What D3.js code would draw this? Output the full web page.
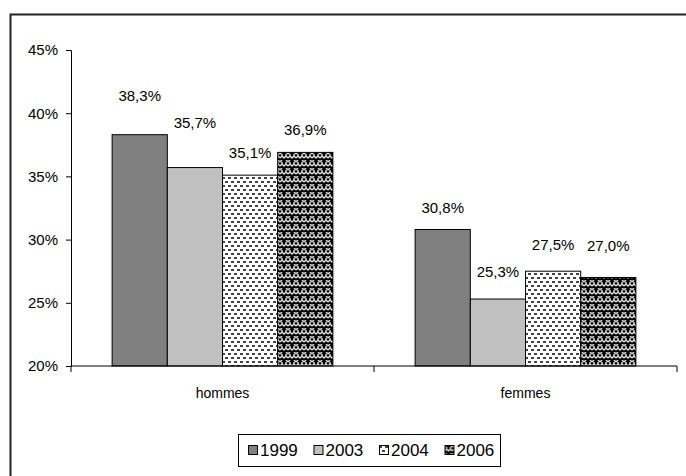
<!DOCTYPE html>
<html>
<head>
<meta charset="utf-8">
<script src="https://cdn.jsdelivr.net/npm/d3@7"></script>
<style>
  body { margin: 0; background: #fff; }
  text { font-family: "Liberation Sans", Arial, sans-serif; fill: #000; }
</style>
</head>
<body>
<script>
// data
var categories = ["hommes", "femmes"]
var years = ["1999", "2003", "2004", "2006"]
var values1999 = [38.3, 30.8]
var values2003 = [35.7, 25.3]
var values2004 = [35.1, 27.5]
var values2006 = [36.9, 27.0]
var yTicks = [20, 25, 30, 35, 40, 45]

// label lift above each bar (pixels), per year then category -- the original labels are hand placed
var labelLift = {
  "1999": [39, 21],
  "2003": [45, 27],
  "2004": [22, 26],
  "2006": [22, 32]
}

var series = [values1999, values2003, values2004, values2006]

function fmt(v) {
  return v.toFixed(1).replace(".", ",") + "%"
}

width = 686
height = 476

svg = d3.select("body")
  .append("svg")
  .attr("width", width)
  .attr("height", height)

// patterns
defs = svg.append("defs")

p4 = defs.append("pattern")
  .attr("id", "pat2004")
  .attr("patternUnits", "userSpaceOnUse")
  .attr("width", 6).attr("height", 8)
p4.append("rect").attr("width", 6).attr("height", 8).attr("fill", "#fff")
p4.append("rect").attr("x", 0).attr("y", 1).attr("width", 3).attr("height", 2).attr("fill", "#444")
p4.append("rect").attr("x", 3).attr("y", 5).attr("width", 3).attr("height", 2).attr("fill", "#444")

p6 = defs.append("pattern")
  .attr("id", "pat2006")
  .attr("patternUnits", "userSpaceOnUse")
  .attr("width", 8).attr("height", 8)
p6.append("rect").attr("width", 8).attr("height", 8).attr("fill", "#000")
p6.append("path")
  .attr("d", "M0,6 L2,4 L4,6 L6,4 L8,6 M0,2 L2,0 M6,0 L8,2 M2,4 L2,2 M6,4 L6,2")
  .attr("stroke", "#ddd")
  .attr("stroke-width", 1.5)
  .attr("fill", "none")

var fills = ["#808080", "#c0c0c0", "url(#pat2004)", "url(#pat2006)"]

// outer frame
svg.append("rect")
  .attr("x", 10.5).attr("y", 14.5)
  .attr("width", 700).attr("height", 500)
  .attr("fill", "none")
  .attr("stroke", "#222")
  .attr("stroke-width", 2)

var plotLeft = 71, plotRight = 677, plotTop = 50, plotBottom = 366

var x0 = d3.scaleBand()
  .domain(categories)
  .range([plotLeft, plotRight])

var x1 = d3.scaleBand()
  .domain(years)
  .range([0, x0.bandwidth()])
  .paddingOuter(0.745)
  .paddingInner(0)

var y = d3.scaleLinear()
  .domain([20, 45])
  .range([plotBottom, plotTop])

// y axis
yAxis = svg.append("g")
  .attr("transform", "translate(" + plotLeft + ",0)")
  .call(d3.axisLeft(y).tickValues(yTicks).tickSize(5).tickPadding(8).tickFormat(function(d) { return d + "%" }))
yAxis.select(".domain").attr("stroke", "#000")
yAxis.selectAll("text").style("font-size", "15px").style("font-family", "Liberation Sans, Arial, sans-serif")

// bars
years.forEach(function(yr, si) {
  svg.append("g")
    .selectAll("rect")
    .data(series[si])
    .enter()
    .append("rect")
    .attr("x", function(d, i) { return x0(categories[i]) + x1(yr) })
    .attr("y", function(d) { return y(d) })
    .attr("width", x1.bandwidth())
    .attr("height", function(d) { return y(20) - y(d) })
    .attr("fill", fills[si])
    .attr("stroke", "#000")
    .attr("stroke-width", 1)

  svg.append("g")
    .selectAll("text")
    .data(series[si])
    .enter()
    .append("text")
    .attr("x", function(d, i) { return x0(categories[i]) + x1(yr) + x1.bandwidth() / 2 })
    .attr("y", function(d, i) { return y(d) - labelLift[yr][i] + 5 })
    .attr("text-anchor", "middle")
    .style("font-size", "15px")
    .text(function(d) { return fmt(d) })
})

// x axis
svg.append("line")
  .attr("x1", plotLeft).attr("x2", plotRight)
  .attr("y1", plotBottom).attr("y2", plotBottom)
  .attr("stroke", "#000")
var bounds = [plotLeft].concat(categories.map(function(c) { return x0(c) + x0.bandwidth() }))
svg.append("g")
  .selectAll("line")
  .data(bounds)
  .enter()
  .append("line")
  .attr("x1", function(d) { return d }).attr("x2", function(d) { return d })
  .attr("y1", plotBottom).attr("y2", plotBottom + 6)
  .attr("stroke", "#000")

svg.append("g")
  .selectAll("text")
  .data(categories)
  .enter()
  .append("text")
  .attr("x", function(d) { return x0(d) + x0.bandwidth() / 2 })
  .attr("y", 398)
  .attr("text-anchor", "middle")
  .style("font-size", "14px")
  .text(function(d) { return d })

// legend
legend = svg.append("g")
legend.append("rect")
  .attr("x", 238.5).attr("y", 434.5)
  .attr("width", 262).attr("height", 32)
  .attr("fill", "#fff")
  .attr("stroke", "#000")

items = legend.selectAll("g.item")
  .data(years)
  .enter()
  .append("g")
  .attr("class", "item")
  .attr("transform", function(d, i) { return "translate(" + (248 + i * 65.5) + ",445)" })
items.append("rect")
  .attr("x", 0.5).attr("y", 0.5)
  .attr("width", 9).attr("height", 9)
  .attr("fill", function(d, i) { return fills[i] })
  .attr("stroke", "#000")
items.append("text")
  .attr("x", 12)
  .attr("y", 11)
  .style("font-size", "17px")
  .text(function(d) { return d })
</script>
</body>
</html>
